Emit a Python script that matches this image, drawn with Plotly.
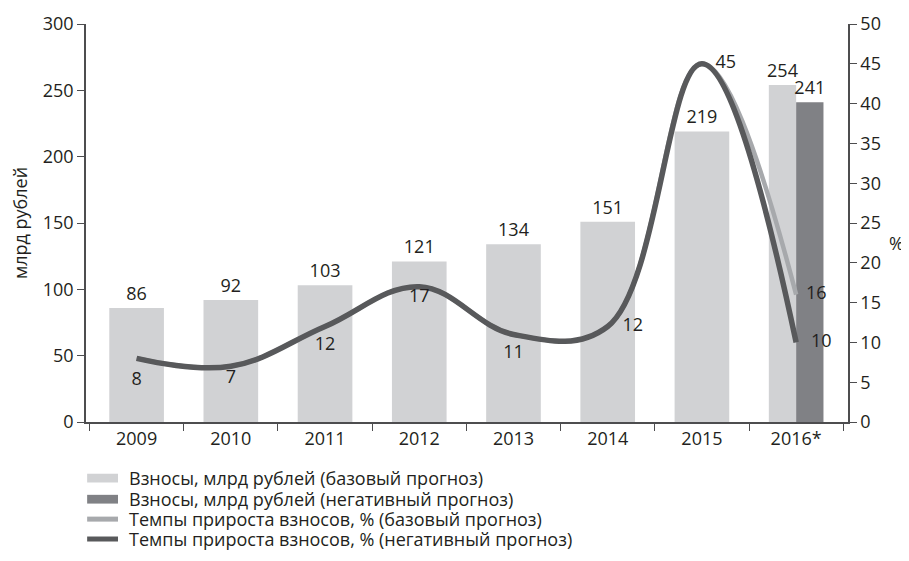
import plotly.graph_objects as go

years = ["2009", "2010", "2011", "2012", "2013", "2014", "2015", "2016*"]
contrib_base = [86, 92, 103, 121, 134, 151, 219, 254]
contrib_neg = [241]
growth_base = [8, 7, 12, 17, 11, 12, 45, 16]
growth_neg = [8, 7, 12, 17, 11, 12, 45, 10]

names = ["Взносы, млрд рублей (базовый прогноз)",
         "Взносы, млрд рублей (негативный прогноз)",
         "Темпы прироста взносов, % (базовый прогноз)",
         "Темпы прироста взносов, % (негативный прогноз)"]

LIGHT_BAR = "#d1d2d4"
DARK_BAR = "#808185"
LIGHT_LINE = "#a7a9ac"
DARK_LINE = "#58595b"
AXIS = "#4d4d4f"
TXT = "#231f20"
FONT = "Open Sans"

fig = go.Figure()

# bars: full width for ordinary years, split for the forecast year
bw = 0.58
widths = [bw] * (len(years) - 1) + [bw / 2]
offsets = [-bw / 2] * len(years)
fig.add_trace(go.Bar(x=years, y=contrib_base, width=widths, offset=offsets,
                     marker=dict(color=LIGHT_BAR, line=dict(width=0)),
                     text=contrib_base, textposition="outside", constraintext="none",
                     textfont=dict(size=18, color=TXT, family=FONT),
                     cliponaxis=False, name=names[0]))
fig.add_trace(go.Bar(x=years[-1:], y=contrib_neg, width=[bw / 2], offset=[0],
                     marker=dict(color=DARK_BAR, line=dict(width=0)),
                     text=contrib_neg, textposition="outside", constraintext="none",
                     textfont=dict(size=18, color=TXT, family=FONT),
                     cliponaxis=False, name=names[1]))

# growth lines (invisible marker sizes only push the value labels away from the line)
base_text = [""] * (len(years) - 1) + [str(growth_base[-1])]
neg_text = [str(v) for v in growth_neg]
neg_pos = ["bottom center"] * 5 + ["middle right"] * 3
neg_gap = [20, 4, 14, 2, 14, 22, 20, 22]
base_gap = [6] * (len(years) - 1) + [14]
fig.add_trace(go.Scatter(x=years, y=growth_base, yaxis="y2", mode="lines+markers+text",
                         line=dict(color=LIGHT_LINE, width=4.5, shape="spline", smoothing=1.1),
                         marker=dict(size=base_gap, color="rgba(0,0,0,0)", line=dict(width=0)),
                         text=base_text, textposition="middle right",
                         textfont=dict(size=18, color=TXT, family=FONT),
                         cliponaxis=False, name=names[2]))
fig.add_trace(go.Scatter(x=years, y=growth_neg, yaxis="y2", mode="lines+markers+text",
                         line=dict(color=DARK_LINE, width=5.5, shape="spline", smoothing=1.1),
                         marker=dict(size=neg_gap, color="rgba(0,0,0,0)", line=dict(width=0)),
                         text=neg_text, textposition=neg_pos,
                         textfont=dict(size=18, color=TXT, family=FONT),
                         cliponaxis=False, name=names[3]))

# legend below the chart, laid out like the original (wide flat swatches)
rows_y = [-0.141, -0.194, -0.244, -0.294]
swatch = [("rect", LIGHT_BAR), ("rect", DARK_BAR), ("line", LIGHT_LINE), ("line", DARK_LINE)]
shapes = []
annotations = []
for nm, (kind, col), yy in zip(names, swatch, rows_y):
    if kind == "rect":
        shapes.append(dict(type="rect", xref="paper", yref="paper", x0=0.0015, x1=0.042,
                           y0=yy - 0.011, y1=yy + 0.011, fillcolor=col, line=dict(width=0)))
    else:
        shapes.append(dict(type="line", xref="paper", yref="paper", x0=0.0015, x1=0.042,
                           y0=yy, y1=yy, line=dict(color=col, width=5)))
    annotations.append(dict(text=nm, xref="paper", yref="paper", x=0.054, y=yy,
                            xanchor="left", yanchor="middle", showarrow=False,
                            font=dict(size=18, color=TXT)))

annotations.append(dict(text="%", xref="paper", yref="paper", x=1.063, y=0.45,
                        xanchor="center", yanchor="middle", showarrow=False,
                        font=dict(size=18, color=TXT)))

# the page body adds an 8px offset, so the figure is 8px smaller than the window
fig.update_layout(
    width=901, height=553,
    margin=dict(l=78, r=61, t=16, b=139),
    plot_bgcolor="white", paper_bgcolor="white",
    font=dict(family=FONT, size=18, color=TXT),
    barmode="overlay",
    showlegend=False,
    xaxis=dict(type="category", tickson="boundaries", ticks="outside", ticklen=7,
               tickcolor=AXIS, showline=True, linecolor=AXIS, linewidth=1.5,
               showgrid=False, tickfont=dict(size=18), automargin=False),
    yaxis=dict(range=[0, 300], dtick=50, ticks="outside", ticklen=7, tickcolor=AXIS,
               showline=True, linecolor=AXIS, linewidth=1.5, showgrid=False,
               zeroline=False, automargin=False,
               title=dict(text="млрд рублей", standoff=20, font=dict(size=18))),
    yaxis2=dict(range=[0, 50], dtick=5, overlaying="y", side="right", ticks="outside",
                ticklen=7, tickcolor=AXIS, showline=True, linecolor=AXIS,
                linewidth=1.5, showgrid=False, zeroline=False, automargin=False),
    shapes=shapes,
    annotations=annotations,
)

fig.write_html("out.html")
